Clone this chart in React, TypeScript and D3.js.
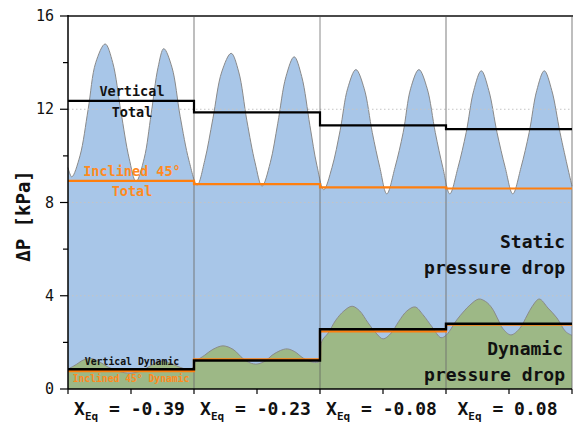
import React from "react";
import * as d3 from "d3";

const W = 573;
const H = 423;

// Category labels for the four panels (X_Eq values)
const categories = ["-0.39", "-0.23", "-0.08", "0.08"];

// Total pressure drop trace (x in axis units 0..8, two units per panel), kPa
const totalX = [0.0, 0.06, 0.19, 0.32, 0.44, 0.59, 0.71, 0.84, 0.97, 1.08, 1.21, 1.32, 1.43, 1.52, 1.65, 1.78, 1.92, 2.05, 2.17, 2.3, 2.44, 2.59, 2.71, 2.84, 2.97, 3.08, 3.21, 3.33, 3.46, 3.59, 3.71, 3.84, 3.95, 4.06, 4.19, 4.32, 4.44, 4.57, 4.7, 4.83, 4.95, 5.06, 5.19, 5.32, 5.44, 5.57, 5.7, 5.83, 5.95, 6.06, 6.19, 6.32, 6.44, 6.56, 6.68, 6.81, 6.94, 7.06, 7.19, 7.32, 7.44, 7.56, 7.68, 7.81, 7.94, 8.0];
const totalY = [9.5, 9.1, 10.0, 12.0, 14.0, 14.8, 14.0, 11.9, 9.9, 8.9, 9.9, 11.8, 13.8, 14.6, 13.8, 11.7, 9.8, 8.75, 9.8, 11.6, 13.6, 14.4, 13.6, 11.5, 9.7, 8.7, 9.7, 11.4, 13.4, 14.25, 13.4, 11.3, 9.6, 8.55, 9.5, 11.1, 12.9, 13.7, 12.9, 11.0, 9.5, 8.37, 9.5, 11.0, 12.9, 13.7, 12.9, 11.0, 9.5, 8.37, 9.5, 11.0, 12.8, 13.65, 12.8, 11.0, 9.5, 8.37, 9.5, 11.0, 12.8, 13.65, 12.8, 11.0, 9.4, 8.7];

// Dynamic pressure drop trace
const dynX = [0.0, 0.13, 0.25, 0.38, 0.51, 0.63, 0.76, 0.89, 1.0, 1.13, 1.25, 1.38, 1.51, 1.63, 1.76, 1.89, 1.98, 2.02, 2.17, 2.3, 2.46, 2.62, 2.78, 2.89, 3.0, 3.13, 3.24, 3.37, 3.48, 3.6, 3.73, 3.84, 3.97, 4.0, 4.03, 4.13, 4.25, 4.38, 4.51, 4.63, 4.76, 4.89, 5.0, 5.13, 5.25, 5.38, 5.51, 5.63, 5.78, 5.92, 6.0, 6.05, 6.17, 6.29, 6.38, 6.52, 6.63, 6.73, 6.83, 6.9, 7.03, 7.17, 7.29, 7.37, 7.48, 7.62, 7.76, 7.9, 8.0];
const dynY = [0.85, 1.05, 1.25, 1.3, 1.15, 0.95, 0.8, 0.7, 0.68, 0.75, 0.9, 1.1, 1.2, 1.1, 0.95, 0.85, 0.9, 1.15, 1.45, 1.7, 1.85, 1.7, 1.3, 1.12, 1.07, 1.2, 1.45, 1.65, 1.72, 1.6, 1.33, 1.18, 1.15, 1.25, 2.05, 2.4, 2.95, 3.35, 3.55, 3.35, 2.85, 2.4, 2.15, 2.4, 2.9, 3.35, 3.52, 3.2, 2.66, 2.2, 2.3, 2.46, 2.96, 3.35, 3.6, 3.86, 3.75, 3.47, 2.96, 2.6, 2.32, 2.6, 3.17, 3.55, 3.86, 3.47, 3.05, 2.46, 2.3];

// Mean values per panel
const verticalTotal = [12.36, 11.87, 11.31, 11.15];
const inclinedTotal = [8.93, 8.79, 8.65, 8.6];
const verticalDynamic = [0.85, 1.22, 2.56, 2.8];
const inclinedDynamic = [0.77, 1.27, 2.47, 2.76];

const yMajorTicks = [0, 4, 8, 12, 16];
const yMinorTicks = [2, 6, 10, 14];
const gridTicks = [4, 8, 12];

const MONO = "'DejaVu Sans Mono', monospace";

export default function App() {
  const x = d3.scaleLinear().domain([0, 8]).range([68, 572]);
  const y = d3.scaleLinear().domain([0, 16]).range([389, 16]);

  const curve = d3.curveCatmullRom.alpha(0.5);
  const area = d3
    .area<[number, number]>()
    .x((d) => x(d[0]))
    .y0(y(0))
    .y1((d) => y(d[1]))
    .curve(curve);
  const line = d3
    .line<[number, number]>()
    .x((d) => x(d[0]))
    .y((d) => y(d[1]))
    .curve(curve);

  const totalPts = totalX.map((v, i) => [v, totalY[i]] as [number, number]);
  const dynPts = dynX.map((v, i) => [v, dynY[i]] as [number, number]);

  const step = d3
    .line<[number, number]>()
    .x((d) => x(d[0]))
    .y((d) => y(d[1]))
    .curve(d3.curveStepAfter);
  const stepPts = (vals: number[]) => {
    const pts = vals.map((v, i) => [i * 2, v] as [number, number]);
    pts.push([8, vals[vals.length - 1]]);
    return pts;
  };

  const panelStarts = [2, 4, 6, 8];
  const dividerStyle = [
    { stroke: "rgba(110,110,110,0.45)", w: 2 },
    { stroke: "rgba(90,90,90,0.7)", w: 1 },
    { stroke: "rgba(110,110,110,0.45)", w: 2 },
    { stroke: "rgba(110,110,110,0.45)", w: 2 },
  ];

  return (
    <svg
      width={W}
      height={H}
      style={{ position: "absolute", left: 0, top: 0, background: "#fff" }}
    >
      <path d={area(totalPts) || ""} fill="#a8c6e8" />
      <path d={line(totalPts) || ""} fill="none" stroke="#8a8a8a" strokeWidth={1} />
      <path d={area(dynPts) || ""} fill="#9db886" />
      <path d={line(dynPts) || ""} fill="none" stroke="#8a8a8a" strokeWidth={1} />

      {gridTicks.map((t) => (
        <line
          key={t}
          x1={x(0)}
          x2={x(8)}
          y1={y(t)}
          y2={y(t)}
          stroke="#c4c4c4"
          strokeWidth={1}
          strokeDasharray="1.5,2.5"
        />
      ))}

      {panelStarts.map((p, i) => (
        <line
          key={p}
          x1={x(p)}
          x2={x(p)}
          y1={y(16)}
          y2={y(0)}
          stroke={dividerStyle[i].stroke}
          strokeWidth={dividerStyle[i].w}
        />
      ))}

      <path d={step(stepPts(inclinedTotal)) || ""} fill="none" stroke="#ff7f0e" strokeWidth={2.2} />
      <path d={step(stepPts(verticalTotal)) || ""} fill="none" stroke="#000" strokeWidth={2.2} />
      <path d={step(stepPts(inclinedDynamic)) || ""} fill="none" stroke="#ff7f0e" strokeWidth={2.2} />
      <path d={step(stepPts(verticalDynamic)) || ""} fill="none" stroke="#000" strokeWidth={2.4} />

      {/* frame */}
      <line x1={x(0)} x2={W} y1={y(16)} y2={y(16)} stroke="#4a4a4a" strokeWidth={2} />
      <line x1={x(0)} x2={x(0)} y1={y(16) - 1} y2={y(0)} stroke="#000" strokeWidth={1.5} />
      <line x1={x(0)} x2={x(8)} y1={y(0)} y2={y(0)} stroke="#000" strokeWidth={1.5} />

      {/* y ticks */}
      {yMajorTicks.map((t) => (
        <g key={t}>
          <line x1={x(0) - 8} x2={x(0)} y1={y(t)} y2={y(t)} stroke="#000" strokeWidth={1.2} />
          <text
            x={54}
            y={y(t)}
            textAnchor="end"
            dominantBaseline="central"
            fontFamily={MONO}
            fontSize={15}
            fill="#111"
          >
            {t}
          </text>
        </g>
      ))}
      {yMinorTicks.map((t) => (
        <line key={t} x1={x(0) - 5} x2={x(0)} y1={y(t)} y2={y(t)} stroke="#000" strokeWidth={1.2} />
      ))}

      {/* x ticks */}
      {d3.range(0, 9).map((t) => (
        <line key={t} x1={x(t)} x2={x(t)} y1={y(0)} y2={y(0) + 5} stroke="#000" strokeWidth={1.2} />
      ))}

      {/* x category labels */}
      {categories.map((c, i) => (
        <text
          key={c}
          x={x(i * 2 + 1) - 1.5}
          y={415}
          textAnchor="middle"
          fontFamily={MONO}
          fontWeight="bold"
          fontSize={18}
          fill="#111"
        >
          <tspan>X</tspan>
          <tspan fontSize={11} dy={5}>Eq</tspan>
          <tspan dy={-5}>{` = ${c}`}</tspan>
        </text>
      ))}

      {/* y axis title */}
      <text
        transform={`translate(30,216) rotate(-90)`}
        textAnchor="middle"
        fontFamily={MONO}
        fontWeight="bold"
        fontSize={19}
        fill="#111"
      >
        ΔP [kPa]
      </text>

      {/* annotations */}
      <g fontFamily={MONO} fontWeight="bold">
        <text x={132} y={96} textAnchor="middle" fontSize={13.5} fill="#111">Vertical</text>
        <text x={132} y={117} textAnchor="middle" fontSize={13.5} fill="#111">Total</text>
        <text x={132} y={176} textAnchor="middle" fontSize={13.5} fill="#ff8a1e">Inclined 45°</text>
        <text x={132} y={196} textAnchor="middle" fontSize={13.5} fill="#ff8a1e">Total</text>
        <text x={132} y={365} textAnchor="middle" fontSize={9.8} fill="#111">Vertical Dynamic</text>
        <text x={131} y={382} textAnchor="middle" fontSize={9.7} fill="#ff8a1e">Inclined 45° Dynamic</text>
        <text x={565} y={248} textAnchor="end" fontSize={18} fill="#111">Static</text>
        <text x={565} y={274} textAnchor="end" fontSize={18} fill="#111">pressure drop</text>
        <text x={563} y={355} textAnchor="end" fontSize={18} fill="#111">Dynamic</text>
        <text x={565} y={381} textAnchor="end" fontSize={18} fill="#111">pressure drop</text>
      </g>
    </svg>
  );
}
